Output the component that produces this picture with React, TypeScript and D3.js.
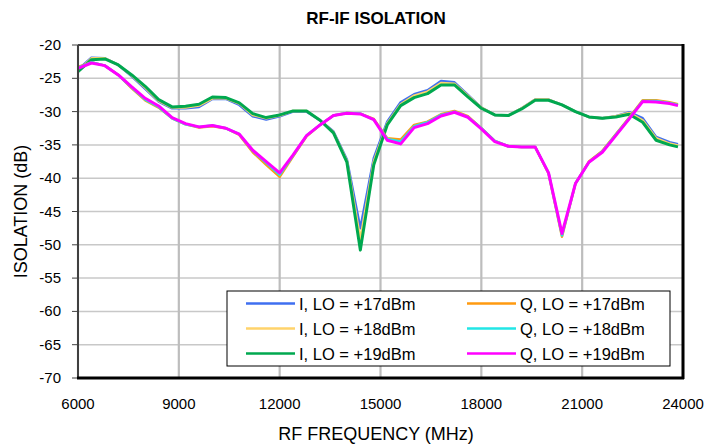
import React from "react";
import * as d3 from "d3";

const freqs = [6000, 6400, 6800, 7200, 7600, 8000, 8400, 8800, 9200, 9600, 10000, 10400, 10800, 11200, 11600, 12000, 12400, 12800, 13200, 13600, 14000, 14400, 14800, 15200, 15600, 16000, 16400, 16800, 17200, 17600, 18000, 18400, 18800, 19200, 19600, 20000, 20400, 20800, 21200, 21600, 22000, 22400, 22800, 23200, 23600, 23850];

const iLo17 = [-23.7, -21.9, -22.0, -23.0, -24.7, -26.6, -28.5, -29.5, -29.5, -29.3, -28.1, -28.1, -29.0, -30.7, -31.2, -30.7, -30.0, -30.0, -31.3, -33.0, -37.2, -47.5, -37.0, -31.5, -28.6, -27.4, -26.8, -25.4, -25.6, -27.5, -29.4, -30.5, -30.6, -29.5, -28.2, -28.2, -29.0, -30.0, -30.8, -31.0, -30.7, -30.1, -31.0, -33.8, -34.6, -34.9];
const iLo18 = [-23.9, -22.0, -22.0, -23.0, -24.6, -26.4, -28.4, -29.4, -29.4, -29.1, -28.0, -28.0, -28.8, -30.5, -31.0, -30.6, -29.9, -29.9, -31.3, -33.1, -37.4, -49.2, -37.5, -31.8, -28.9, -27.6, -27.0, -25.7, -25.8, -27.6, -29.4, -30.5, -30.6, -29.5, -28.2, -28.2, -29.0, -30.0, -30.8, -31.0, -30.7, -30.2, -31.3, -34.0, -34.8, -35.1];
const iLo19 = [-24.0, -22.2, -22.1, -23.0, -24.5, -26.2, -28.2, -29.3, -29.2, -28.9, -27.8, -27.9, -28.7, -30.3, -30.9, -30.5, -29.9, -29.9, -31.3, -33.2, -37.6, -50.8, -38.0, -32.0, -29.1, -27.9, -27.3, -26.0, -26.0, -27.8, -29.5, -30.5, -30.6, -29.6, -28.3, -28.3, -29.0, -30.0, -30.8, -31.0, -30.8, -30.4, -31.6, -34.3, -35.0, -35.3];
const qLo17 = [-23.3, -22.6, -23.1, -24.5, -26.5, -28.3, -29.4, -31.0, -31.9, -32.4, -32.2, -32.5, -33.5, -36.1, -38.0, -39.8, -36.7, -33.7, -32.0, -30.6, -30.2, -30.3, -31.1, -34.0, -34.2, -32.0, -31.5, -30.4, -29.9, -30.7, -32.5, -34.4, -35.2, -35.3, -35.3, -39.3, -48.8, -40.8, -37.5, -35.9, -33.4, -30.9, -28.3, -28.3, -28.6, -28.9];
const qLo18 = [-23.4, -22.6, -23.1, -24.5, -26.4, -28.2, -29.3, -31.0, -31.9, -32.3, -32.1, -32.5, -33.4, -35.9, -37.7, -39.5, -36.6, -33.6, -32.0, -30.6, -30.2, -30.3, -31.2, -34.1, -34.5, -32.2, -31.6, -30.5, -30.0, -30.8, -32.5, -34.4, -35.2, -35.3, -35.3, -39.2, -48.6, -40.8, -37.6, -36.0, -33.5, -31.0, -28.4, -28.4, -28.7, -29.0];
const qLo19 = [-23.5, -22.7, -23.1, -24.5, -26.3, -28.0, -29.15, -30.9, -31.8, -32.3, -32.1, -32.5, -33.4, -35.8, -37.5, -39.2, -36.5, -33.6, -32.0, -30.6, -30.25, -30.35, -31.2, -34.3, -34.85, -32.4, -31.8, -30.65, -30.1, -30.85, -32.6, -34.5, -35.2, -35.3, -35.3, -39.2, -48.3, -40.8, -37.6, -36.1, -33.6, -31.1, -28.5, -28.55, -28.8, -29.1];

const seriesNames = ["I, LO = +17dBm", "I, LO = +18dBm", "I, LO = +19dBm", "Q, LO = +17dBm", "Q, LO = +18dBm", "Q, LO = +19dBm"];
const seriesValues = [iLo17, iLo18, iLo19, qLo17, qLo18, qLo19];
const seriesColors = ["#3f6ff0", "#ffd36b", "#00a84f", "#ff9a10", "#22e6e6", "#ff00ff"];
const seriesWidths = [2.5, 2.5, 3, 2.5, 2.5, 3];

const xTicks = [6000, 9000, 12000, 15000, 18000, 21000, 24000];
const yTicks = [-70, -65, -60, -55, -50, -45, -40, -35, -30, -25, -20];

const legendOrder = [0, 3, 1, 4, 2, 5];

export default function App() {
  const W = 709, H = 444;
  const x0 = 78, x1 = 683, y0 = 45, y1 = 378;
  const x = d3.scaleLinear().domain([6000, 24000]).range([x0, x1]);
  const y = d3.scaleLinear().domain([-70, -20]).range([y1, y0]);
  const line = d3.line<number>().x((_, i) => x(freqs[i])).y((v) => y(v));
  const font = "'Liberation Sans', Arial, sans-serif";

  return (
    <svg width={W} height={H} style={{ position: "absolute", left: 0, top: 0, background: "#fff" }} fontFamily={font}>
      <rect x={0} y={0} width={W} height={H} fill="#fff" />
      <text x={376} y={24} textAnchor="middle" fontSize={17} fontWeight="bold">RF-IF ISOLATION</text>
      {yTicks.map((t) => (
        <line key={"h" + t} x1={x0} x2={x1} y1={y(t)} y2={y(t)} stroke="#c8c8c8" strokeWidth={1.5} />
      ))}
      {xTicks.map((t) => (
        <line key={"v" + t} x1={x(t)} x2={x(t)} y1={y0} y2={y1} stroke="#bdbdbd" strokeWidth={2.2} />
      ))}
      {yTicks.map((t) => (
        <g key={"yt" + t}>
          <line x1={x0 - 6} x2={x0} y1={y(t)} y2={y(t)} stroke="#404040" strokeWidth={1} />
          <text x={61} y={y(t) + 5} textAnchor="end" fontSize={15}>{t}</text>
        </g>
      ))}
      {xTicks.map((t) => (
        <text key={"xt" + t} x={x(t)} y={409} textAnchor="middle" fontSize={15}>{t}</text>
      ))}
      {seriesValues.map((vals, k) => (
        <path key={"s" + k} d={line(vals) || ""} fill="none" stroke={seriesColors[k]} strokeWidth={seriesWidths[k]} strokeLinejoin="round" />
      ))}
      <line x1={x0} x2={x1} y1={y0} y2={y0} stroke="#404040" strokeWidth={2} />
      <line x1={x0} x2={x0} y1={y0} y2={y1} stroke="#404040" strokeWidth={2} />
      <line x1={x1} x2={x1} y1={y0 - 1} y2={y1 + 1} stroke="#000" strokeWidth={3} />
      <line x1={x0 - 1} x2={x1 + 1} y1={y1} y2={y1} stroke="#000" strokeWidth={3} />
      <rect x={227} y={291} width={443} height={75} fill="#fff" stroke="#000" strokeWidth={1} />
      {legendOrder.map((k, j) => {
        const col = j % 2;
        const row = Math.floor(j / 2);
        const lx = col === 0 ? 246 : 467;
        const ly = 303.5 + row * 25;
        return (
          <g key={"lg" + k}>
            <line x1={lx} x2={lx + 49} y1={ly} y2={ly} stroke={seriesColors[k]} strokeWidth={2.5} />
            <text x={lx + 53} y={ly + 6} fontSize={16.5}>{seriesNames[k]}</text>
          </g>
        );
      })}
      <text x={376} y={440} textAnchor="middle" fontSize={18}>RF FREQUENCY (MHz)</text>
      <text transform={`translate(27,${(y0 + y1) / 2}) rotate(-90)`} textAnchor="middle" fontSize={18}>ISOLATION (dB)</text>
    </svg>
  );
}
